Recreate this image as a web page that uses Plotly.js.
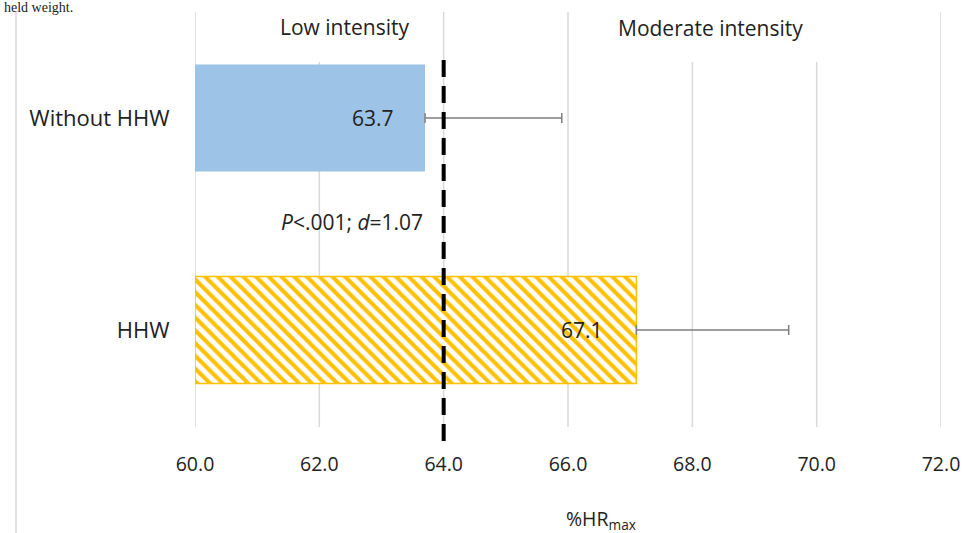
<!DOCTYPE html>
<html>
<head>
<meta charset="utf-8">
<script src="https://cdn.plot.ly/plotly-3.0.1.min.js"></script>
<style>html,body{margin:0;padding:0;background:#fff;}#chart{width:975px;height:533px;}</style>
</head>
<body>
<div id="chart"></div>
<script>
// ---- data ----
const categories = ["Without HHW", "HHW"];
const meanValues = [63.7, 67.1];
const sdPlus = [2.2, 2.45];
const xTickVals = [60, 62, 64, 66, 68, 70, 72];
const xTickText = ["60.0", "62.0", "64.0", "66.0", "68.0", "70.0", "72.0"];
const thresholdValue = 64;
const axisBase = 60;
const zoneLabels = ["Low intensity", "Moderate intensity"];
const statText = "<i>P</i>&lt;.001; <i>d</i>=1.07";
const xTitle = "%HR<sub>max</sub>";
const captionFragment = "held weight.";

const FONT = "'Open Sans', Lato, sans-serif";
const GRID = "#d9d9d9";
const TXT = "#222";

function barTrace(i, marker) {
  return {
    type: "bar", orientation: "h",
    y: [categories[i]], x: [meanValues[i] - axisBase], base: axisBase,
    width: 0.505,
    marker: marker,
    error_x: {type: "data", array: [sdPlus[i]], symmetric: false, arrayminus: [0], color: "#7f7f7f", thickness: 1.5, width: 5},
    hoverinfo: "skip", showlegend: false
  };
}
const traces = [
  barTrace(0, {color: "#9dc3e6", line: {width: 0}}),
  barTrace(1, {color: "#ffffff", line: {width: 1.5, color: "#ffc000"},
               pattern: {shape: "\\", fgcolor: "#ffc000", bgcolor: "#ffffff", size: 9, solidity: 0.45}})
];

// paper y conversions: plot from y=12 (paper 1) to y=436 (paper 0)
function py(pix){ return (436 - pix) / 424; }
function px(pix){ return (pix - 195) / 746; }

const shapes = [];
shapes.push({type: "line", xref: "paper", yref: "paper", x0: px(16), x1: px(16), y0: py(12), y1: py(533), line: {color: GRID, width: 1.5}});
xTickVals.forEach(v => {
  let top = 62;
  if (v === 60 || v === 64 || v === 66 || v === 72) top = 12;
  shapes.push({type: "line", xref: "x", yref: "paper", x0: v, x1: v, y0: py(top), y1: py(427), line: {color: GRID, width: 1.5}, layer: "below"});
});
shapes.push({type: "line", xref: "x", yref: "paper", x0: thresholdValue, x1: thresholdValue, y0: py(60), y1: py(450), line: {color: "#000", width: 4, dash: "17px,9px"}, layer: "above"});

const annotations = [
  {xref: "x", yref: "paper", x: 62.4, y: py(27), yanchor: "middle", text: zoneLabels[0], showarrow: false, font: {family: FONT, size: 21, color: TXT}, bgcolor: "#fff"},
  {xref: "x", yref: "paper", x: 68.3, y: py(28), yanchor: "middle", text: zoneLabels[1], showarrow: false, font: {family: FONT, size: 21, color: TXT}, bgcolor: "#fff"},
  {xref: "x", yref: "y", x: meanValues[0], y: categories[0], xanchor: "right", yanchor: "middle", xshift: -29, text: meanValues[0].toFixed(1), showarrow: false, font: {family: FONT, size: 21, color: TXT}},
  {xref: "x", yref: "y", x: meanValues[1], y: categories[1], xanchor: "right", yanchor: "middle", xshift: -31, text: meanValues[1].toFixed(1), showarrow: false, font: {family: FONT, size: 21, color: TXT}},
  {xref: "paper", yref: "paper", x: px(425), y: py(222), xanchor: "right", yanchor: "middle", text: statText, showarrow: false, font: {family: FONT, size: 21, color: TXT}},
  {xref: "paper", yref: "paper", x: px(601), y: py(519), xanchor: "center", yanchor: "middle", text: xTitle, showarrow: false, font: {family: FONT, size: 19.5, color: TXT}},
  {xref: "paper", yref: "paper", x: px(2), y: py(8), xanchor: "left", yanchor: "middle", text: captionFragment, showarrow: false, font: {family: "'Liberation Serif', serif", size: 14, color: TXT}}
];

const layout = {
  width: 975, height: 533,
  margin: {l: 195, r: 34, t: 12, b: 97, pad: 0},
  paper_bgcolor: "#fff", plot_bgcolor: "rgba(0,0,0,0)",
  barmode: "overlay",
  xaxis: {range: [60, 72], tickvals: xTickVals, ticktext: xTickText, showgrid: false, zeroline: false, showline: false,
          ticks: "outside", ticklen: 11, tickcolor: "rgba(0,0,0,0)", tickfont: {family: FONT, size: 19.5, color: TXT}, fixedrange: true},
  yaxis: {type: "category", categoryorder: "array", categoryarray: categories, range: [1.5, -0.5], showgrid: false, zeroline: false, showline: false,
          ticks: "outside", ticklen: 20, tickcolor: "rgba(0,0,0,0)", tickfont: {family: FONT, size: 22, color: TXT}, fixedrange: true},
  shapes: shapes,
  annotations: annotations,
  showlegend: false
};

Plotly.newPlot("chart", traces, layout, {displayModeBar: false, staticPlot: true});
</script>
</body>
</html>
